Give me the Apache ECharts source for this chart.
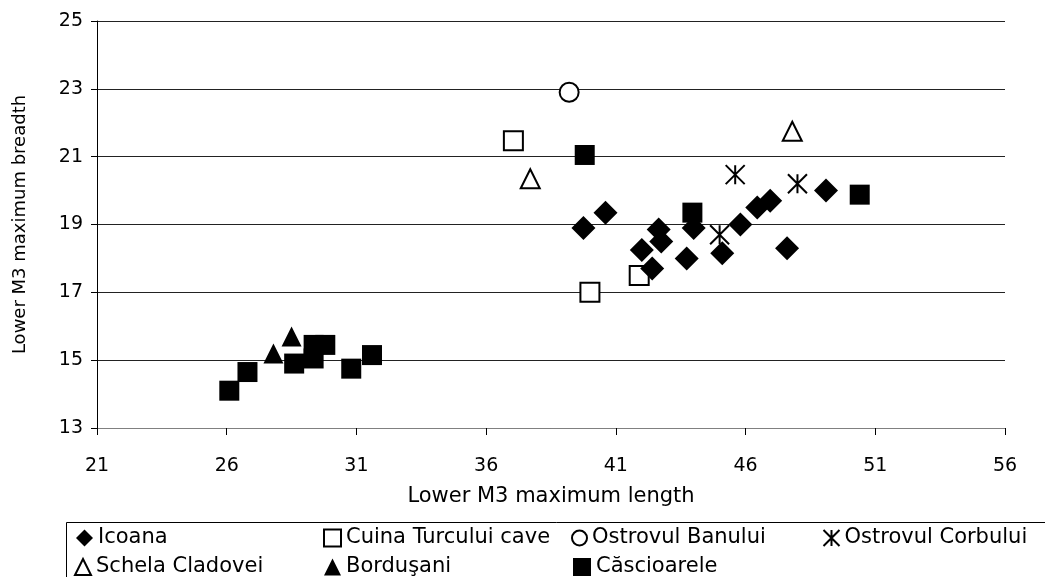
<!DOCTYPE html>
<html><head><meta charset="utf-8">
<script src="https://cdn.jsdelivr.net/npm/echarts@6/dist/echarts.min.js"></script>
<style>html,body{margin:0;padding:0;background:#fff}#c{width:1045px;height:577px}</style>
</head><body><div id="c"></div>
<script>
const xTicks = [21, 26, 31, 36, 41, 46, 51, 56];
const yTicks = [13, 15, 17, 19, 21, 23, 25];
const seriesNames = ['Icoana','Cuina Turcului cave','Ostrovul Banului','Ostrovul Corbului','Schela Cladovei','Borduşani','Căscioarele'];
const icoana = [[39.75,18.9],[40.6,19.35],[42.0,18.25],[42.4,17.7],[42.65,18.85],[42.75,18.5],[43.73,18.0],[44.0,18.9],[45.1,18.15],[45.8,19.0],[46.45,19.5],[46.95,19.7],[47.6,18.3],[49.1,20.0]];
const cuina = [[37.05,21.47],[40.0,17.0],[41.9,17.5]];
const banului = [[39.2,22.9]];
const corbului = [[45.6,20.47],[45.0,18.7],[48.0,20.2]];
const schela = [[37.7,20.35],[47.8,21.75]];
const bordusani = [[27.8,15.2],[28.5,15.7]];
const cascioarele = [[26.1,14.1],[26.8,14.65],[28.6,14.9],[29.35,15.05],[29.35,15.45],[29.8,15.45],[30.8,14.75],[31.6,15.15],[39.8,21.05],[43.95,19.35],[50.4,19.88]];

const FONT = 'DejaVu Sans';
const asterisk = 'path://M0,0L10,10M10,0L0,10M5,0L5,10';
const styles = [
  {data: icoana, symbol: 'diamond', size: 24, fill: '#000', z: 5},
  {data: cuina, symbol: 'rect', size: 19, fill: '#fff', z: 3},
  {data: banului, symbol: 'circle', size: 19, fill: '#fff', z: 3},
  {data: corbului, symbol: asterisk, size: 19, fill: 'none', z: 6},
  {data: schela, symbol: 'triangle', size: 19, fill: '#fff', z: 3},
  {data: bordusani, symbol: 'triangle', size: 20, fill: '#000', z: 4},
  {data: cascioarele, symbol: 'rect', size: 20, fill: '#000', z: 4}
];
const series = styles.map((s, i) => ({
  name: seriesNames[i], type: 'scatter', data: s.data, symbol: s.symbol, symbolSize: s.size, z: s.z,
  itemStyle: {color: s.fill, borderColor: '#000', borderWidth: s.fill === '#000' ? 0 : 2, opacity: 1},
  emphasis: {disabled: true}
}));
const legendPos = [
  [76, 527], [323, 527], [571, 527], [821, 527],
  [74, 556], [324, 556], [573, 556]
];
const legendIconSize = [17, 17, 15, 16, 16, 17, 18];
const legends = seriesNames.map((n, i) => ({
  data: [{name: n, icon: styles[i].symbol, itemStyle: {color: styles[i].fill, borderColor: '#000', borderWidth: styles[i].fill === '#000' ? 0 : 2}}],
  left: legendPos[i][0], top: legendPos[i][1], padding: 0,
  itemWidth: legendIconSize[i], itemHeight: legendIconSize[i], itemGap: 0,
  textStyle: {fontFamily: FONT, fontSize: 21, lineHeight: 22, color: '#000'},
  selectedMode: false
}));
const chart = echarts.init(document.getElementById('c'), null, {renderer: 'canvas'});
chart.setOption({
  animation: false,
  backgroundColor: '#fff',
  grid: {left: 97, right: 40, top: 21, bottom: 149},
  xAxis: {
    type: 'value', min: xTicks[0], max: xTicks[xTicks.length-1], interval: 5,
    name: 'Lower M3 maximum length', nameLocation: 'middle', nameGap: 58,
    nameTextStyle: {fontFamily: FONT, fontSize: 21, color: '#000'},
    axisLine: {show: true, onZero: false, lineStyle: {color: '#808080', width: 1}},
    axisTick: {show: true, length: 7, inside: false, lineStyle: {color: '#000'}},
    axisLabel: {fontFamily: FONT, fontSize: 19, color: '#000', margin: 29},
    splitLine: {show: false}
  },
  yAxis: {
    type: 'value', min: yTicks[0], max: yTicks[yTicks.length-1], interval: 2,
    name: 'Lower M3 maximum breadth', nameLocation: 'middle', nameGap: 68, nameRotate: 90,
    nameTextStyle: {fontFamily: FONT, fontSize: 18, color: '#000'},
    axisLine: {show: true, onZero: false, lineStyle: {color: '#000', width: 1}},
    axisTick: {show: true, length: 6, lineStyle: {color: '#000'}},
    axisLabel: {fontFamily: FONT, fontSize: 19, color: '#000', margin: 14},
    splitLine: {show: true, lineStyle: {color: '#222', width: 1}}
  },
  legend: legends,
  graphic: [{type: 'rect', shape: {x: 66.5, y: 522.5, width: 1000, height: 100}, style: {fill: 'none', stroke: '#000', lineWidth: 1}, z: -1}],
  series: series
});
</script></body></html>
